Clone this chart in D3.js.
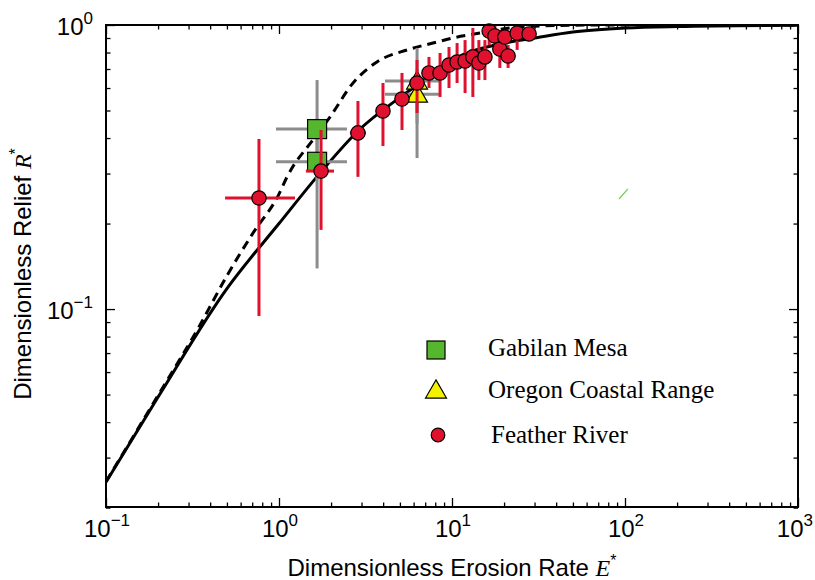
<!DOCTYPE html>
<html>
<head>
<meta charset="utf-8">
<script src="https://cdn.jsdelivr.net/npm/d3@7"></script>
<style>
  body { margin: 0; background: #fff; }
  text { font-family: "Liberation Sans", Arial, sans-serif; }
</style>
</head>
<body>
<script>
// Chart size
var width = 815,
    height = 580;

// Model curves: [E*, R*]
var solidCurve = [[0.1, 0.0246], [0.2, 0.049], [0.5, 0.118], [1, 0.20], [1.75, 0.304],
    [2.9, 0.427], [5, 0.556], [6.3, 0.615], [10, 0.753], [20, 0.864], [30, 0.90],
    [50, 0.945], [100, 0.976], [200, 0.988], [1000, 0.998]];
var dashedCurve = [[0.1, 0.0247], [0.2, 0.0497], [0.35, 0.088], [0.5, 0.131], [0.707, 0.185],
    [1, 0.254], [1.11, 0.291], [1.57, 0.394], [1.97, 0.474], [2.68, 0.625], [3.68, 0.741],
    [5.5, 0.817], [7.77, 0.864], [10.1, 0.90], [14.5, 0.937], [21.7, 0.976], [32, 0.992],
    [72, 1.0], [1000, 1.0]];

// Feather River: E, R, E low, E high, R low, R high
var featherE  = [0.766, 1.75, 2.86, 3.99, 5.14, 6.28, 7.36, 8.53, 9.61, 10.7, 11.9, 13.2, 14.3, 15.5, 16.4, 17.7, 18.9, 20.2, 21.1, 23.8, 27.9];
var featherR  = [0.246, 0.306, 0.417, 0.498, 0.549, 0.625, 0.678, 0.678, 0.723, 0.741, 0.747, 0.772, 0.735, 0.772, 0.952, 0.915, 0.823, 0.907, 0.778, 0.937, 0.930];
var featherElo = [0.488, 1.43, 2.57, null, null, null, null, null, null, null, null, null, null, null, null, null, null, null, null, null, null];
var featherEhi = [1.237, 2.08, 3.18, null, null, null, null, null, null, null, null, null, null, null, null, null, null, null, null, null, null];
var featherRlo = [0.0945, 0.190, 0.292, 0.375, 0.427, 0.490, 0.600, 0.558, 0.600, 0.625, 0.576, 0.558, 0.640, 0.640, 0.850, 0.817, 0.706, 0.85, 0.706, 0.817, 0.90];
var featherRhi = [0.397, 0.427, 0.540, 0.625, 0.678, 0.753, 0.772, 0.797, 0.837, 0.864, 0.885, 0.976, 0.885, 0.885, 0.984, 1.0, 0.96, 0.96, 0.85, 0.984, 0.96];

// Gabilan Mesa
var gabilanE  = [1.66, 1.66];
var gabilanR  = [0.430, 0.330];
var gabilanElo = [0.961, 0.961];
var gabilanEhi = [2.47, 2.47];
var gabilanRlo = [0.285, 0.139];
var gabilanRhi = [0.640, 0.47];

// Oregon Coastal Range
var oregonE  = [6.28, 6.28];
var oregonR  = [0.635, 0.571];
var oregonElo = [4.10, 4.10];
var oregonEhi = [8.53, 8.53];
var oregonRlo = [0.45, 0.34];
var oregonRhi = [0.83, 0.70];

// stray green stroke in the figure
var strayLine = [[92.3, 0.244], [104, 0.265]];

var legendNames = ["Gabilan Mesa", "Oregon Coastal Range", "Feather River"];
var xTicks = [0.1, 1, 10, 100, 1000],
    xExp = ["\u22121", "0", "1", "2", "3"];
var yTicks = [0.1, 1],
    yExp = ["\u22121", "0"];

var red = "#e0112e", green = "#55b72e", yellow = "#f2f200", grey = "#8c8c8c";

var svg = d3.select("body").append("svg")
    .attr("width", width)
    .attr("height", height);

var x = d3.scaleLog().domain([0.1, 1000]).range([106, 798]);
var y = d3.scaleLog().domain([0.0201, 1]).range([507, 25]);

function minors(lo, hi) {
  var out = [];
  for (var d = lo; d < hi; d *= 10)
    for (var k = 2; k <= 9; k++) out.push(d * k);
  return out;
}

// Axes: ticks on all four sides, pointing inward
var ax = svg.append("g").attr("class", "axes");
function addAxis(gen, scale, vals, size, tr) {
  ax.append("g").attr("transform", tr)
    .call(gen(scale).tickValues(vals).tickSize(size).tickFormat(""))
    .call(function(g) {
      g.select(".domain").remove();
      g.selectAll("line").attr("stroke", "#000").attr("stroke-width", 1.3);
    });
}
var yMinor = minors(0.01, 1).filter(function(v) { return v >= 0.02; });
addAxis(d3.axisBottom, x, xTicks, -9, "translate(0,507)");
addAxis(d3.axisBottom, x, minors(0.1, 1000), -4.5, "translate(0,507)");
addAxis(d3.axisTop, x, xTicks, -9, "translate(0,25)");
addAxis(d3.axisTop, x, minors(0.1, 1000), -4.5, "translate(0,25)");
addAxis(d3.axisLeft, y, yTicks, -9, "translate(106,0)");
addAxis(d3.axisLeft, y, yMinor, -4.5, "translate(106,0)");
addAxis(d3.axisRight, y, yTicks, -9, "translate(798,0)");
addAxis(d3.axisRight, y, yMinor, -4.5, "translate(798,0)");

// tick labels with superscripts
xTicks.forEach(function(v, i) {
  var last = i === xTicks.length - 1;
  var t = svg.append("text").attr("x", last ? 813 : x(v) + 1).attr("y", 537)
      .attr("text-anchor", last ? "end" : "middle").style("font-size", "24px");
  t.append("tspan").text("10");
  t.append("tspan").attr("dy", -11).style("font-size", "17px").text(xExp[i]);
});
yTicks.forEach(function(v, i) {
  var t = svg.append("text").attr("x", 93).attr("y", y(v) + 10)
      .attr("text-anchor", "end").style("font-size", "24px");
  t.append("tspan").text("10");
  t.append("tspan").attr("dy", -11).style("font-size", "17px").text(yExp[i]);
});

// axis titles
var xt = svg.append("text").attr("x", 452).attr("y", 576)
    .attr("text-anchor", "middle").style("font-size", "24px");
xt.append("tspan").text("Dimensionless Erosion Rate ");
xt.append("tspan").style("font-family", "'Liberation Serif', serif").style("font-style", "italic").text("E");
xt.append("tspan").attr("dy", -10).style("font-size", "16px").text("*");

var yt = svg.append("text").attr("transform", "translate(31,274) rotate(-90)")
    .attr("text-anchor", "middle").style("font-size", "24px");
yt.append("tspan").text("Dimensionless Relief ");
yt.append("tspan").style("font-family", "'Liberation Serif', serif").style("font-style", "italic").text("R");
yt.append("tspan").attr("dy", -10).style("font-size", "16px").text("*");

// plot area
var plot = svg.append("g");
plot.append("clipPath").attr("id", "clip")
  .append("rect").attr("x", 106).attr("y", 25).attr("width", 692).attr("height", 482);

var line = d3.line()
    .x(function(d) { return x(d[0]); })
    .y(function(d) { return y(d[1]); })
    .curve(d3.curveMonotoneX);

var curves = plot.append("g").attr("clip-path", "url(#clip)");
curves.append("path").datum(solidCurve).attr("d", line)
    .attr("fill", "none").attr("stroke", "#000").attr("stroke-width", 3);
curves.append("path").datum(dashedCurve).attr("d", line)
    .attr("fill", "none").attr("stroke", "#000").attr("stroke-width", 3)
    .attr("stroke-dasharray", "9,6");
curves.append("path").datum(strayLine).attr("d", d3.line().x(function(d) { return x(d[0]); }).y(function(d) { return y(d[1]); }))
    .attr("stroke", "#6fcf4a").attr("stroke-width", 1.2);

function errorBars(g, E, R, Elo, Ehi, Rlo, Rhi, col) {
  E.forEach(function(e, i) {
    if (Elo[i] != null)
      g.append("line").attr("x1", x(Elo[i])).attr("x2", x(Ehi[i]))
        .attr("y1", y(R[i])).attr("y2", y(R[i]))
        .attr("stroke", col).attr("stroke-width", 3);
    g.append("line").attr("x1", x(e)).attr("x2", x(e))
      .attr("y1", y(Rlo[i])).attr("y2", y(Rhi[i]))
      .attr("stroke", col).attr("stroke-width", 3);
  });
}

var marks = plot.append("g").attr("clip-path", "url(#clip)");
errorBars(marks, gabilanE, gabilanR, gabilanElo, gabilanEhi, gabilanRlo, gabilanRhi, grey);
errorBars(marks, oregonE, oregonR, oregonElo, oregonEhi, oregonRlo, oregonRhi, grey);

var sq = 19;
gabilanE.forEach(function(e, i) {
  marks.append("rect").attr("x", x(e) - sq / 2).attr("y", y(gabilanR[i]) - sq / 2)
    .attr("width", sq).attr("height", sq)
    .attr("fill", green).attr("stroke", "#000").attr("stroke-width", 1.2);
});
var tri = d3.symbol().type(d3.symbolTriangle).size(190);
oregonE.forEach(function(e, i) {
  marks.append("path").attr("d", tri)
    .attr("transform", "translate(" + x(e) + "," + (y(oregonR[i]) + 2) + ")")
    .attr("fill", yellow).attr("stroke", "#000").attr("stroke-width", 1.2);
});

errorBars(marks, featherE, featherR, featherElo, featherEhi, featherRlo, featherRhi, red);

svg.append("g").selectAll("circle")
    .data(featherE)
  .enter().append("circle")
    .attr("cx", function(d) { return x(d); })
    .attr("cy", function(d, i) { return y(featherR[i]); })
    .attr("r", 7.2)
    .attr("fill", red).attr("stroke", "#000").attr("stroke-width", 1.2);

// frame
svg.append("rect").attr("x", 106).attr("y", 25).attr("width", 692).attr("height", 482)
    .attr("fill", "none").attr("stroke", "#000").attr("stroke-width", 2);

// Legend
var lg = svg.append("g").attr("class", "legend");
lg.append("rect").attr("x", 427).attr("y", 341).attr("width", 18).attr("height", 18)
    .attr("fill", green).attr("stroke", "#000").attr("stroke-width", 1.2);
lg.append("path").attr("d", tri).attr("transform", "translate(436,392)")
    .attr("fill", yellow).attr("stroke", "#000").attr("stroke-width", 1.2);
lg.append("circle").attr("cx", 438).attr("cy", 435).attr("r", 6.8)
    .attr("fill", red).attr("stroke", "#000").attr("stroke-width", 1.2);
var legY = [356, 398, 443], legX = [488, 488, 491];
legendNames.forEach(function(n, i) {
  lg.append("text").attr("x", legX[i]).attr("y", legY[i])
    .style("font-family", "'Liberation Serif', 'Times New Roman', serif")
    .style("font-size", "25px").text(n);
});
</script>
</body>
</html>
